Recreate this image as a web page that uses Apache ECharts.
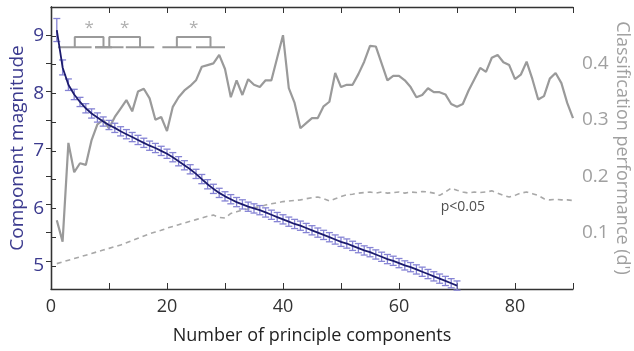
<!DOCTYPE html>
<html>
<head>
<meta charset="utf-8">
<script src="https://cdn.jsdelivr.net/npm/echarts@6/dist/echarts.min.js"></script>
<style>
  html, body { margin: 0; padding: 0; background: #fff; }
  #chart { width: 634px; height: 351px; }
</style>
</head>
<body>
<div id="chart"></div>
<script>
// component magnitude, components 1..70 (left axis)
const magnitude = [
  9.10, 8.45, 8.15, 7.98, 7.85, 7.74, 7.65, 7.58, 7.51, 7.45,
  7.40, 7.34, 7.29, 7.24, 7.19, 7.14, 7.09, 7.05, 7.00, 6.95,
  6.89, 6.82, 6.75, 6.68, 6.60, 6.51, 6.42, 6.34, 6.27, 6.21,
  6.16, 6.11, 6.07, 6.03, 6.00, 5.97, 5.93, 5.89, 5.85, 5.81,
  5.77, 5.73, 5.70, 5.66, 5.62, 5.58, 5.54, 5.50, 5.46, 5.42,
  5.39, 5.35, 5.31, 5.27, 5.24, 5.20, 5.16, 5.12, 5.09, 5.05,
  5.01, 4.98, 4.94, 4.90, 4.86, 4.82, 4.78, 4.74, 4.70, 4.66
]
// error bar half-heights
const magErr = [
  0.20, 0.13, 0.10, 0.09, 0.08, 0.08, 0.08, 0.08, 0.08, 0.08,
  0.08, 0.08, 0.08, 0.08, 0.08, 0.08, 0.08, 0.08, 0.08, 0.08,
  0.08, 0.08, 0.08, 0.08, 0.08, 0.08, 0.08, 0.08, 0.08, 0.08,
  0.08, 0.08, 0.08, 0.08, 0.08, 0.08, 0.08, 0.08, 0.08, 0.08,
  0.08, 0.08, 0.08, 0.08, 0.08, 0.08, 0.08, 0.08, 0.08, 0.08,
  0.08, 0.08, 0.08, 0.08, 0.08, 0.08, 0.08, 0.08, 0.08, 0.08,
  0.08, 0.08, 0.08, 0.08, 0.08, 0.08, 0.08, 0.08, 0.08, 0.08
]
// classification performance d', components 1..90 (right axis)
const performance = [
  0.122, 0.084, 0.259, 0.207, 0.223, 0.220, 0.264, 0.292, 0.300, 0.285,
  0.305, 0.320, 0.335, 0.315, 0.350, 0.355, 0.338, 0.300, 0.305, 0.280,
  0.323, 0.340, 0.352, 0.360, 0.370, 0.394, 0.397, 0.400, 0.415, 0.390,
  0.340, 0.370, 0.344, 0.372, 0.362, 0.358, 0.370, 0.370, 0.410, 0.450,
  0.356, 0.330, 0.285, 0.294, 0.303, 0.303, 0.324, 0.332, 0.383, 0.358,
  0.362, 0.362, 0.381, 0.403, 0.431, 0.430, 0.400, 0.370, 0.378, 0.378,
  0.370, 0.358, 0.340, 0.344, 0.356, 0.349, 0.349, 0.345, 0.328, 0.323,
  0.328, 0.352, 0.372, 0.392, 0.385, 0.410, 0.415, 0.402, 0.397, 0.372,
  0.380, 0.403, 0.372, 0.336, 0.342, 0.373, 0.383, 0.365, 0.330, 0.303
]
// p<0.05 threshold
const chance = [
  0.045, 0.048, 0.051, 0.054, 0.057, 0.060, 0.063, 0.066, 0.069, 0.072,
  0.075, 0.078, 0.082, 0.086, 0.090, 0.094, 0.098, 0.101, 0.104, 0.108,
  0.111, 0.114, 0.117, 0.120, 0.123, 0.126, 0.129, 0.131, 0.127, 0.126,
  0.134, 0.137, 0.140, 0.142, 0.144, 0.146, 0.149, 0.151, 0.153, 0.155,
  0.156, 0.157, 0.158, 0.160, 0.162, 0.163, 0.160, 0.156, 0.160, 0.164,
  0.167, 0.168, 0.170, 0.171, 0.172, 0.170, 0.172, 0.170, 0.171, 0.172,
  0.170, 0.172, 0.171, 0.173, 0.172, 0.170, 0.166, 0.172, 0.179, 0.175,
  0.172, 0.170, 0.172, 0.171, 0.172, 0.174, 0.170, 0.166, 0.163, 0.166,
  0.170, 0.172, 0.169, 0.166, 0.160, 0.158, 0.159, 0.158, 0.158, 0.157
]
// significance brackets: [left range start, left range end, right range start, right range end]
const sigPairs = [
  [1.2, 7.0, 7.6, 10.5],
  [7.6, 12.5, 12.9, 17.8],
  [19.2, 24.2, 25.0, 30.0]
]
const sigLevels = { base: 8.80, top: 8.98, star: 9.13 }
const noteText = { x: 71, y: 0.145, text: 'p<0.05' }

const xTicks = [10, 20, 30, 40, 50, 60, 70, 80, 90]
const xLabels = [0, 20, 40, 60, 80]
const leftTicks = [5, 5.5, 6, 6.5, 7, 7.5, 8, 8.5, 9, 9.5]
const leftLabels = [5, 6, 7, 8, 9]
const rightTicks = [0.05, 0.1, 0.15, 0.2, 0.25, 0.3, 0.35, 0.4, 0.45]
const rightLabels = [0.1, 0.2, 0.3, 0.4]

const navy = '#1c1b6e'
const barColor = '#8583d4'
const gray = '#9a9a9a'
const font = 'Open Sans, Lato, sans-serif'

const toPairs = arr => arr.map((v, i) => [i + 1, v])

const bracketSeries = sigPairs.map(p => {
  const m1 = (p[0] + p[1]) / 2
  const m2 = (p[2] + p[3]) / 2
  return {
    type: 'line',
    xAxisIndex: 0,
    yAxisIndex: 0,
    symbol: 'none',
    silent: true,
    z: 1,
    lineStyle: { color: gray, width: 2 },
    connectNulls: false,
    data: [
      [p[0], sigLevels.base], [p[1], sigLevels.base], null,
      [p[2], sigLevels.base], [p[3], sigLevels.base], null,
      [m1, sigLevels.base], [m1, sigLevels.top], [m2, sigLevels.top], [m2, sigLevels.base]
    ]
  }
})

// text marks drawn as invisible scatter points with labels
const textPoint = (data, yAxisIndex, style) => ({
  type: 'scatter',
  xAxisIndex: 0,
  yAxisIndex,
  symbol: 'circle',
  symbolSize: 1,
  silent: true,
  z: 6,
  itemStyle: { color: 'rgba(0,0,0,0)' },
  label: Object.assign({ show: true, position: 'inside', fontFamily: font, formatter: p => p.data[2] }, style),
  data
})

const starData = sigPairs.map(p => [((p[0] + p[1]) / 2 + (p[2] + p[3]) / 2) / 2, sigLevels.star, '*'])

const chart = echarts.init(document.getElementById('chart'))
chart.setOption({
  animation: false,
  backgroundColor: '#fff',
  grid: { left: 51, right: 61, top: 7, bottom: 62, containLabel: false, outerBoundsMode: 'none' },
  xAxis: [
    {
      type: 'value', min: 0, max: 90,
      name: 'Number of principle components',
      nameLocation: 'middle', nameGap: 38, nameMoveOverlap: false,
      nameTextStyle: { fontSize: 18, color: '#222', fontFamily: font },
      axisLine: { lineStyle: { color: '#333', width: 1.3 } },
      axisTick: { inside: true, length: 6, customValues: xTicks, lineStyle: { color: '#333' } },
      axisLabel: { customValues: xLabels, margin: 9, fontSize: 18, color: '#333', fontFamily: font },
      splitLine: { show: false }
    },
    {
      type: 'value', min: 0, max: 90, position: 'top',
      axisLine: { lineStyle: { color: '#333', width: 1.3 } },
      axisTick: { inside: true, length: 6, customValues: xTicks, lineStyle: { color: '#333' } },
      axisLabel: { show: false },
      splitLine: { show: false }
    }
  ],
  yAxis: [
    {
      type: 'value', min: 4.6, max: 9.5, position: 'left',
      name: 'Component magnitude',
      nameLocation: 'middle', nameGap: 24, nameRotate: 90, nameMoveOverlap: false,
      nameTextStyle: { fontSize: 19, color: '#3b3a8e', fontFamily: font },
      axisLine: { show: true, lineStyle: { color: '#333', width: 1.3 } },
      axisTick: { show: true, inside: true, length: 5, customValues: leftTicks, lineStyle: { color: '#333' } },
      axisLabel: { customValues: leftLabels, margin: 7, fontSize: 19, color: '#3b3a8e', fontFamily: font },
      splitLine: { show: false }
    },
    {
      type: 'value', min: 0, max: 0.5, position: 'right',
      name: "Classification performance (d')",
      nameLocation: 'middle', nameGap: 40, nameRotate: -90, nameMoveOverlap: false,
      nameTextStyle: { fontSize: 18, color: '#a0a0a0', fontFamily: font },
      axisLine: { show: true, lineStyle: { color: '#333', width: 1.3 } },
      axisTick: { show: true, inside: true, length: 5, customValues: rightTicks, lineStyle: { color: '#333' } },
      axisLabel: { customValues: rightLabels, margin: 9, fontSize: 19, color: '#a0a0a0', fontFamily: font },
      splitLine: { show: false }
    }
  ],
  series: [
    {
      name: 'chance',
      type: 'line', xAxisIndex: 0, yAxisIndex: 1,
      symbol: 'none', z: 2,
      lineStyle: { color: '#a8a8a8', width: 1.6, type: [5, 4] },
      data: toPairs(chance)
    },
    {
      name: 'performance',
      type: 'line', xAxisIndex: 0, yAxisIndex: 1,
      symbol: 'none', z: 3,
      lineStyle: { color: gray, width: 2.2 },
      data: toPairs(performance)
    },
    {
      name: 'error',
      type: 'custom', xAxisIndex: 0, yAxisIndex: 0, z: 4,
      data: magnitude.map((v, i) => [i + 1, v - magErr[i], v + magErr[i]]),
      renderItem: (params, api) => {
        const lo = api.coord([api.value(0), api.value(1)])
        const hi = api.coord([api.value(0), api.value(2)])
        const w = 3.5
        const style = { stroke: barColor, lineWidth: 1.3, fill: null }
        return {
          type: 'group',
          children: [
            { type: 'line', shape: { x1: lo[0], y1: lo[1], x2: hi[0], y2: hi[1] }, style },
            { type: 'line', shape: { x1: lo[0] - w, y1: lo[1], x2: lo[0] + w, y2: lo[1] }, style },
            { type: 'line', shape: { x1: hi[0] - w, y1: hi[1], x2: hi[0] + w, y2: hi[1] }, style }
          ]
        }
      }
    },
    {
      name: 'magnitude',
      type: 'line', xAxisIndex: 0, yAxisIndex: 0,
      symbol: 'none', z: 5,
      lineStyle: { color: navy, width: 1.8 },
      data: toPairs(magnitude)
    },
    ...bracketSeries,
    textPoint(starData, 0, { color: gray, fontSize: 17 }),
    textPoint([[noteText.x, noteText.y, noteText.text]], 1, { color: '#222', fontSize: 14 })
  ]
})
</script>
</body>
</html>
